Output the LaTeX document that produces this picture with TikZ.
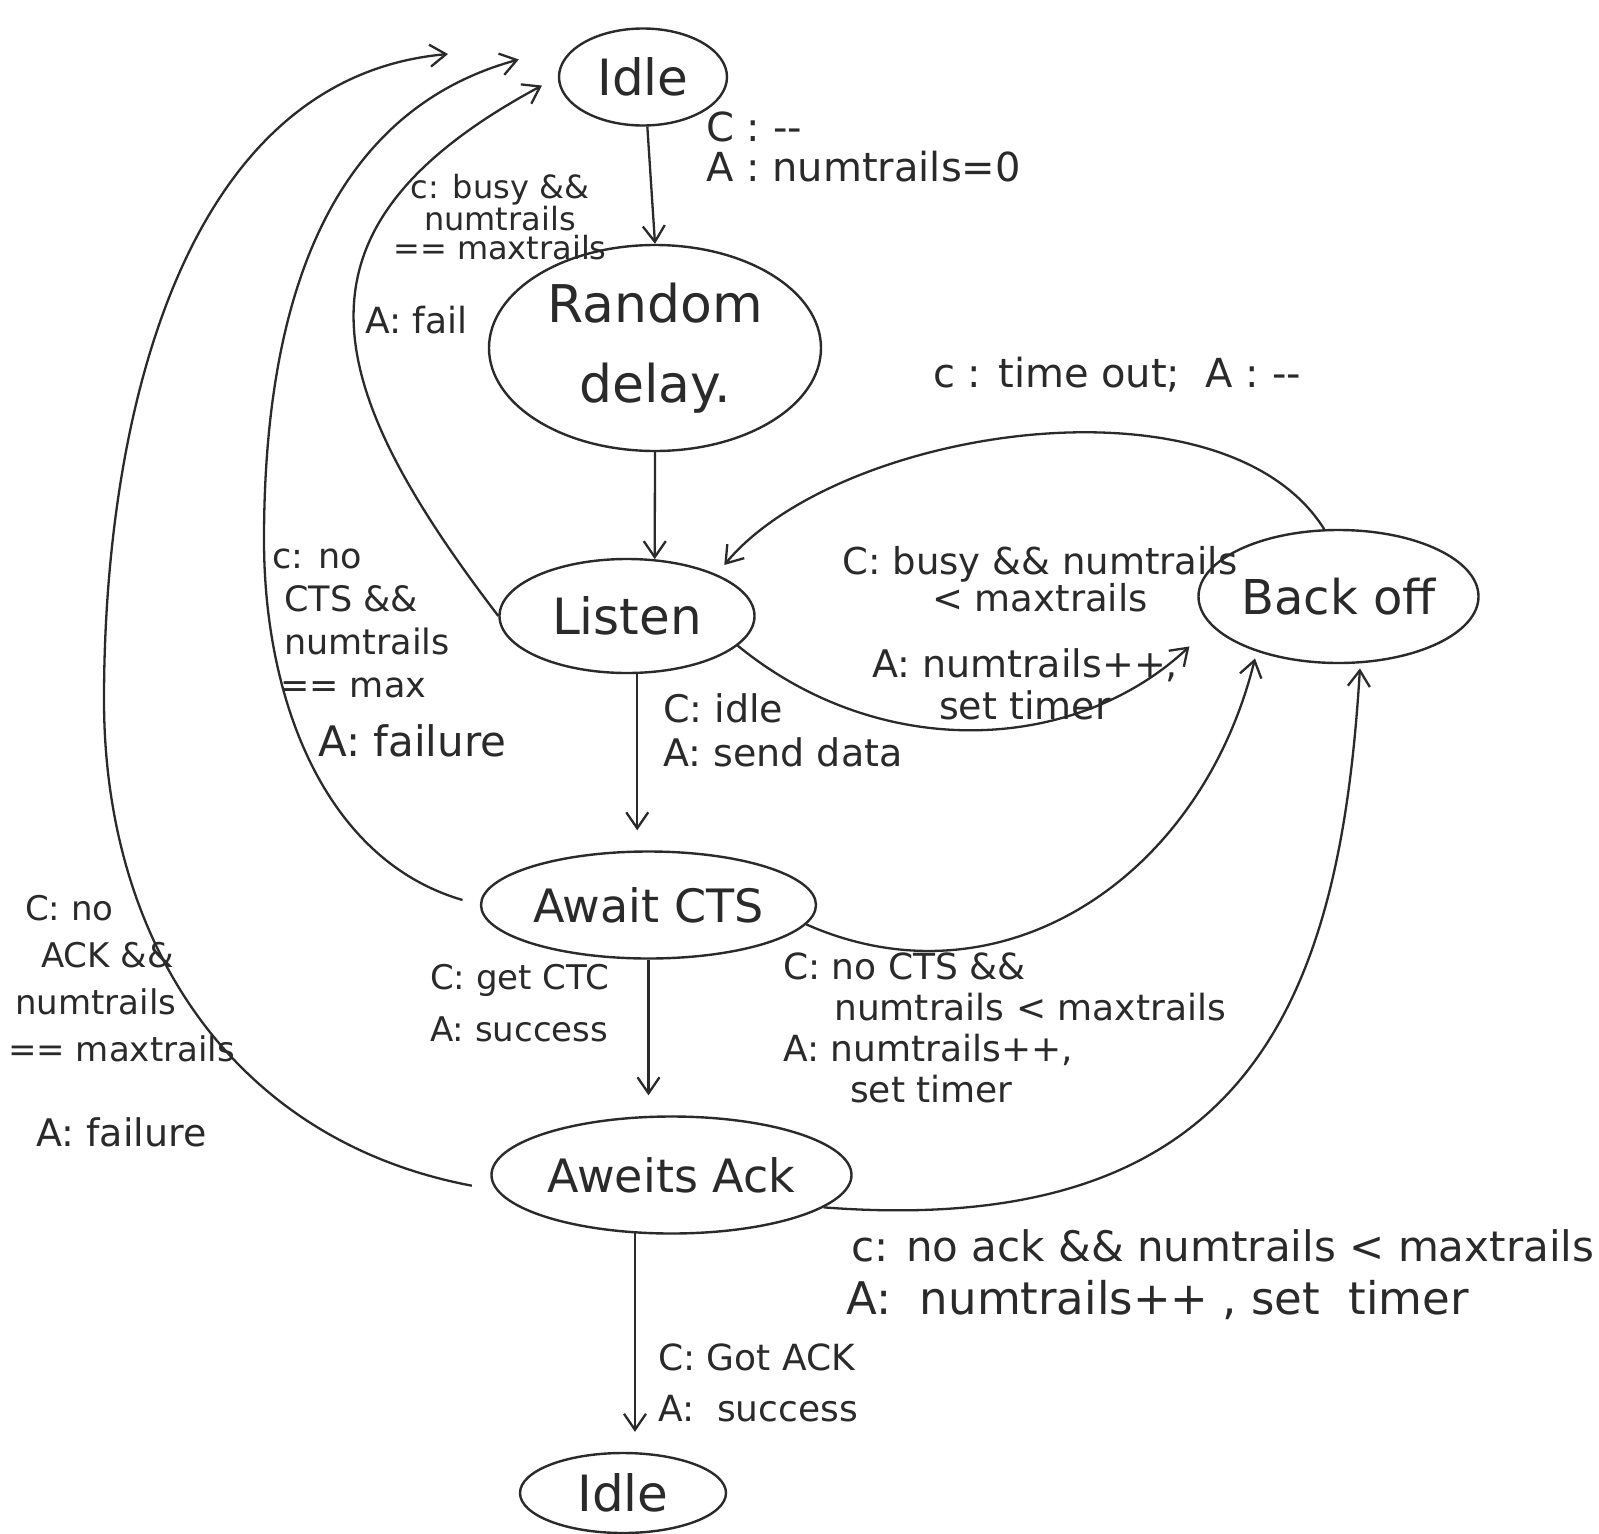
\documentclass[tikz,border=0pt]{standalone}
\usepackage{fontspec}
\setmainfont{DejaVu Sans}
\usetikzlibrary{arrows.meta,shapes.geometric,calc}
\definecolor{ink}{HTML}{2A2A2A}
\begin{document}
\begin{tikzpicture}[x=1pt,y=-1pt,
  fs/.style 2 args={font=\fontsize{#1}{#2}\selectfont},
  stnode/.style={draw=ink, line width=2.4pt, ellipse, inner sep=0pt, text=ink, fs={50}{56}},
  conn/.style={draw=ink, line width=2.3pt, -{Straight Barb[length=16pt,width=22pt]}},
  lbl/.style={inner sep=0pt, align=left, anchor=north west, text=ink},
]
\fill[white] (0,0) rectangle (1599,1534);
\useasboundingbox (0,0) rectangle (1599,1534);

% states
\node[stnode, minimum width=168, minimum height=97] (idle) at (643,77) {Idle};
\node[stnode, minimum width=332, minimum height=206, align=center, fs={52}{80}] (rand) at (655,348) {Random\\delay.};
\node[stnode, minimum width=255, minimum height=114] (listen) at (627,616) {Listen};
\node[stnode, minimum width=280, minimum height=133, fs={48}{54}] (backoff) at (1338.5,596.5) {Back off};
\node[stnode, minimum width=335, minimum height=107, fs={46}{52}] (cts) at (648.5,905) {Await CTS};
\node[stnode, minimum width=360, minimum height=117, fs={46}{52}] (ack) at (671.5,1175) {Aweits Ack};
\node[stnode, minimum width=206, minimum height=80] (idleb) at (623,1493) {Idle};

% straight transitions
\draw[conn] (idle.-85) -- (rand.north);
\draw[conn] (rand.south) -- (listen.64);
\draw[conn, shorten >=20pt] (listen.-80) -- (listen.-80 |- cts.north);
\draw[conn, shorten >=20pt] (cts.south) -- (cts.south |- ack.north);
\draw[conn, shorten >=20pt] (ack.-122) -- (ack.-122 |- idleb.north);

% failures back to Idle
\draw[conn, shorten >=18pt] (listen.west) .. controls (318,380) and (279,227) .. (idle.west);
\draw[conn, shorten <=18pt, shorten >=66pt] (cts.west) .. controls (325,860) and (264,700) .. (264,540)
   .. controls (264,326) and (316,115) .. (idle.150);
\draw[conn, shorten <=25pt, shorten >=135pt] (ack.185) .. controls (230,1140) and (104,939) .. (104,700)
   .. controls (104,413) and (185,77.5) .. (idle.150);

% back off transitions
\draw[conn, shorten >=30pt] (listen.-15) .. controls (881,763) and (1076,753) .. (backoff.193);
\draw[conn, shorten >=12pt] (backoff.102) .. controls (1223,368) and (838,428) .. (listen.25);
\draw[conn, shorten >=7pt] (cts.-7) .. controls (1000,1010) and (1200,880) .. (backoff.214);
\draw[conn, shorten >=5pt] (ack.-12) .. controls (1250,1240) and (1340,1000) .. (backoff.-72);

% labels
\node[lbl, fs={40}{40}] (l1) at (706,112) {C : -{}-\\A : numtrails=0};
\node[lbl, fs={32}{29}, align=center, anchor=north] (l2) at (500,174) {c: busy \&\&\\numtrails\\== maxtrails};
\node[lbl, fs={36}{36}] (l3) at (365,306) {A: fail};
\node[lbl, fs={40}{40}] (l4) at (933,357) {c : time out;\ \ A : -{}-};
\node[lbl, fs={35}{43}] (l5) at (272,549) {c: no\\\hspace*{12pt}CTS \&\&\\\hspace*{12pt}numtrails\\\hspace*{8pt}== max};
\node[lbl, fs={42}{42}] (l6) at (318,724) {A: failure};
\node[lbl, fs={37}{32}, align=center, anchor=north] (l7) at (1040,546) {C: busy \&\& numtrails\\< maxtrails};
\node[lbl, fs={38}{42}, align=center, anchor=north] (l8) at (1025,648) {A: numtrails++,\\set timer};
\node[lbl, fs={38}{44}] (l9) at (663,693) {C: idle\\A: send data};
\node[lbl, fs={34}{47}] (l10) at (8,895) {\hspace*{17pt}C: no\\\hspace*{33pt}ACK \&\&\\\hspace*{7pt}numtrails\\== maxtrails};
\node[lbl, fs={38}{38}] (l11) at (36,1117) {A: failure};
\node[lbl, fs={34}{52}] (l12) at (430,964) {C: get CTC\\A: success};
\node[lbl, fs={36}{41}] (l13) at (783,953) {C: no CTS \&\&\\\hspace*{51pt}numtrails < maxtrails\\A: numtrails++,\\\hspace*{67pt}set timer};
\node[lbl, fs={42}{42}] (l14) at (851,1229) {c: no ack \&\& numtrails < maxtrails};
\node[lbl, fs={45}{45}] (l15) at (846,1280) {A:\ \ numtrails++\ , set\ \ timer};
\node[lbl, fs={36}{51}] (l16) at (658,1344) {C: Got ACK\\A:\ \ success};
\end{tikzpicture}
\end{document}
